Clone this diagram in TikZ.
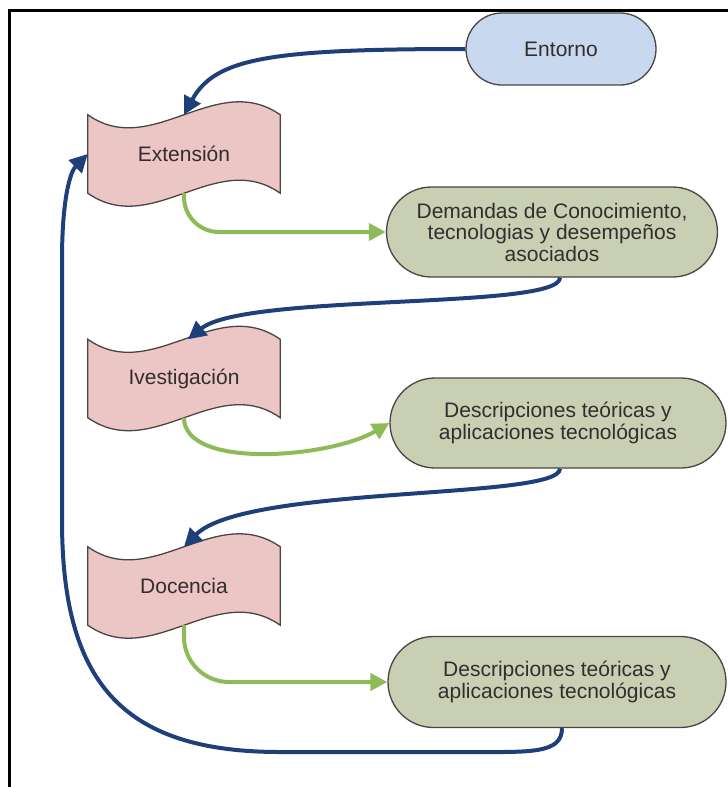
\documentclass[tikz,border=0pt]{standalone}
\usepackage{fontspec}
\setmainfont{Liberation Sans}
\usetikzlibrary{arrows.meta,shapes.misc}
\pgfdeclarelayer{background}
\pgfsetlayers{background,main}

\definecolor{navy}{HTML}{1E3F7A}
\definecolor{leaf}{HTML}{8DBB57}
\definecolor{sky}{HTML}{C7D8EF}
\definecolor{rose}{HTML}{ECC5C5}
\definecolor{sage}{HTML}{C9CFB3}
\definecolor{ink}{HTML}{332D2D}
\definecolor{edgegray}{HTML}{4A4444}

% wavy banner outline drawn around a (rectangular, undrawn) node
\newcommand\bannerwave[1]{%
  \path[fill=rose, draw=edgegray, line width=1.3pt]
    (#1.north west)
      .. controls ([shift={(64,45)}]#1.north west) and ([shift={(128,-45)}]#1.north west) .. (#1.north east)
    -- (#1.south east)
      .. controls ([shift={(-64,-45)}]#1.south east) and ([shift={(-128,45)}]#1.south east) .. (#1.south west)
    -- cycle;}

\begin{document}
\begin{tikzpicture}[x=1pt,y=-1pt,
  txt/.style={font=\fontsize{21}{21.5}\selectfont, text=ink, align=center},
  pill/.style={txt, rounded rectangle, draw=edgegray, line width=1.3pt, inner sep=0pt},
  banner/.style={txt, rectangle, minimum width=192pt, minimum height=78pt, inner sep=0pt},
  flow/.style={navy, line width=4pt, -{Triangle[length=18pt,width=18pt]}},
  feed/.style={leaf, line width=4pt, -{Triangle[length=17pt,width=17pt]}},
]
\useasboundingbox (0,0) rectangle (728,787);

% frame
\draw[line width=2.5pt, black] (9.7,787) -- (9.7,10.5) -- (728,10.5);

% nodes
\node[pill, fill=sky, minimum width=190pt, minimum height=72pt] (ent) at (561,49) {Entorno};
\node[banner] (ext) at (184,154) {Extensión};
\node[pill, fill=sage, minimum width=331pt, minimum height=90pt] (dem) at (552,232)
  {Demandas de Conocimiento,\\tecnologias y desempeños\\asociados};
\node[banner] (inv) at (184,378.5) {Ivestigación};
\node[pill, fill=sage, minimum width=336pt, minimum height=90pt] (des1) at (558,423)
  {Descripciones teóricas y\\aplicaciones tecnológicas};
\node[banner] (doc) at (184,586) {Docencia};
\node[pill, fill=sage, minimum width=338pt, minimum height=91pt] (des2) at (557,682)
  {Descripciones teóricas y\\aplicaciones tecnológicas};

\begin{pgfonlayer}{background}
  \bannerwave{ext}
  \bannerwave{inv}
  \bannerwave{doc}
\end{pgfonlayer}

% blue connectors
\draw[flow] (ent.west) .. controls (270,49) and (215,58) .. (ext.north);
\draw[flow] ([xshift=8pt]dem.south) .. controls (560,310) and (245,293) .. ([xshift=4pt]inv.north);
\draw[flow] ([xshift=2pt]des1.south) .. controls (560,500) and (245,485) .. (doc.north);
\draw[flow] ([xshift=5pt]des2.south) .. controls (562,754) and (530,752) .. (470,752)
  -- (280,752) .. controls (120,752) and (62,680) .. (62,520)
  -- (62,260) .. controls (62,200) and (70,172) .. (ext.west);

% green connectors
\draw[feed, rounded corners=35pt] (ext.south) |- (dem.west);
\draw[feed] (inv.south) .. controls (184,470) and (330,458) .. (des1.west);
\draw[feed, rounded corners=45pt] (doc.south) |- (des2.west);
\end{tikzpicture}
\end{document}
